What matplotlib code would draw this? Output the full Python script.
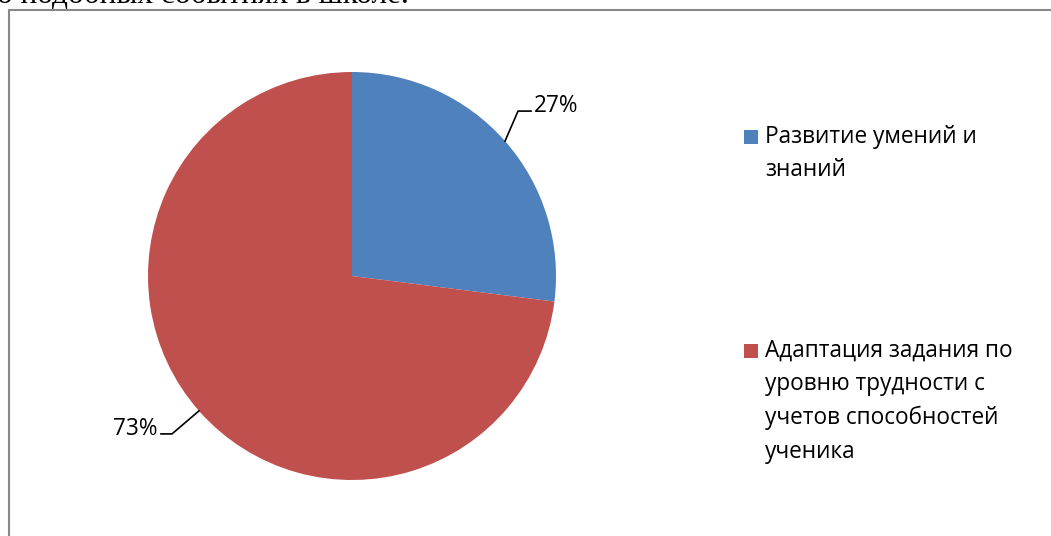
import matplotlib
matplotlib.use("Agg")

import numpy as np
import matplotlib.pyplot as plt
from matplotlib.patches import Rectangle

# ---------------------------------------------------------------------------
# Data
# ---------------------------------------------------------------------------
categories = ["Развитие умений и\nзнаний",
              "Адаптация задания по\nуровню трудности с\nучетов способностей\nученика"]
values = [27, 73]
pct_labels = ["27%", "73%"]
colors = ["#4F81BD", "#C0504D"]

W, H = 1051, 536
FONT = "Open Sans"
FS = 16.3

fig = plt.figure(figsize=(W / 100, H / 100), dpi=100)
ax = fig.add_axes([0, 0, 1, 1])


def iy(y):
    """image row -> data y"""
    return H - y


# ---------------------------------------------------------------------------
# Pie
# ---------------------------------------------------------------------------
cx, cy, r = 352, iy(276), 204
wedges, _ = ax.pie(values, colors=colors, startangle=90, counterclock=False,
                   center=(cx, cy), radius=r, frame=True,
                   wedgeprops=dict(linewidth=0))
ax.set_xlim(0, W)
ax.set_ylim(0, H)
ax.set_aspect("equal")
ax.axis("off")

# chart frame (cut off at right / bottom like the source)
ax.add_patch(Rectangle((8.5, -20), 1100, iy(10) + 20, fill=False,
                       edgecolor="#888888", linewidth=1.5))

# text of the document above the chart, mostly cropped
ax.text(-3, iy(3), "о подобных событиях в школе.", fontsize=22.5,
        family="Liberation Serif", ha="left", va="baseline", color="black")

# data labels with leader lines
for w, lab in zip(wedges, pct_labels):
    mid = np.deg2rad((w.theta1 + w.theta2) / 2)
    px, py = cx + r * np.cos(mid), cy + r * np.sin(mid)
    if np.cos(mid) > 0:
        ex, ey = px + 13, py + 30
        hx = ex + 13
        ax.plot([px, ex, hx], [py, ey, ey], color="black", lw=1.2)
        ax.text(hx + 3, ey - 1, lab, fontsize=FS, family=FONT,
                ha="left", va="baseline")
    else:
        ex, ey = px - 27, py - 23
        hx = ex - 11
        ax.plot([px, ex, hx], [py, ey, ey], color="black", lw=1.2)
        ax.text(hx - 3, ey - 1, lab, fontsize=FS, family=FONT,
                ha="right", va="baseline")

# ---------------------------------------------------------------------------
# Legend
# ---------------------------------------------------------------------------
leg_y = [137, 351]
for w, lab, y in zip(wedges, categories, leg_y):
    ax.add_patch(Rectangle((744, iy(y) - 7), 14, 14,
                           facecolor=w.get_facecolor(), edgecolor="none"))
    ax.text(765, iy(y) + 12, lab, fontsize=FS, family=FONT,
            ha="left", va="top", linespacing=1.52)

fig.savefig("out.png", dpi=100, facecolor="white")
